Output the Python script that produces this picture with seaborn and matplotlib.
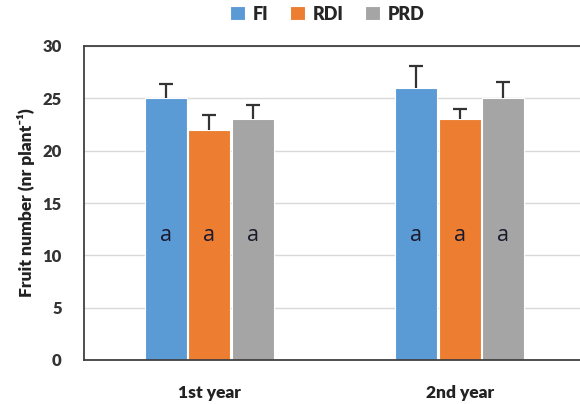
import matplotlib
matplotlib.use("Agg")
import matplotlib.pyplot as plt
import seaborn as sns
import pandas as pd

years = ["1st year", "2nd year"]
treatments = ["FI", "RDI", "PRD"]
fi_values = [25, 26]
rdi_values = [22, 23]
prd_values = [23, 25]
fi_err = [1.4, 2.1]
rdi_err = [1.4, 1.0]
prd_err = [1.4, 1.6]
letters_fi = ["a", "a"]
letters_rdi = ["a", "a"]
letters_prd = ["a", "a"]
yticks = [0, 5, 10, 15, 20, 25, 30]

colors = ["#5B9BD5", "#ED7D31", "#A5A5A5"]

sns.set_theme(style="white")
plt.rcParams['font.family'] = ['Lato', 'DejaVu Sans']

rows = []
for t, vals in zip(treatments, [fi_values, rdi_values, prd_values]):
    for y, v in zip(years, vals):
        rows.append({"year": y, "treatment": t, "value": v})
df = pd.DataFrame(rows)

fig = plt.figure(figsize=(5.8, 4.04), dpi=100)
ax = fig.add_axes([84/580, 1-360/404, (585-84)/580, (360-46)/404])

sns.barplot(data=df, x="year", y="value", hue="treatment", hue_order=treatments,
            palette=colors, width=0.52, gap=0.04, errorbar=None, ax=ax,
            saturation=1, edgecolor="white", linewidth=0.8)

errs = [fi_err, rdi_err, prd_err]
letters = [letters_fi, letters_rdi, letters_prd]
for cont, err, lets in zip(ax.containers, errs, letters):
    xs = [b.get_x() + b.get_width()/2 for b in cont]
    hs = [b.get_height() for b in cont]
    _, caps, _ = ax.errorbar(xs, hs, yerr=[[0]*len(err), err], fmt="none", ecolor="#333333",
                             elinewidth=1.6, capsize=5, capthick=1.6, zorder=3)
    caps[0].set_visible(False)
    for x, l in zip(xs, lets):
        ax.text(x, 11.9, l, ha="center", va="center", fontsize=15.5, color="#1a1a2e",
                family=["Open Sans", "DejaVu Sans"])

ax.set_ylim(0, 30)
ax.set_xlim(-0.5, 1.5)
ax.set_yticks(yticks)
ax.set_yticklabels([str(v) for v in yticks], fontsize=12, fontweight="heavy", color="#333333")
ax.set_xticks([0, 1])
ax.set_xticklabels(years, fontsize=12.5, fontweight="heavy", color="#222222")
ax.tick_params(axis="x", length=0, pad=18)
ax.tick_params(axis="y", length=0, pad=16)
ax.set_xlabel("")
ax.set_ylabel("Fruit number (nr plant⁻¹)", fontsize=12.5, fontweight="heavy",
              color="#222222", labelpad=5)
ax.yaxis.grid(True, color="#D9D9D9", linewidth=1)
ax.set_axisbelow(True)
for s in ["left", "bottom", "top"]:
    ax.spines[s].set_color("#404040")
    ax.spines[s].set_linewidth(1.3)
ax.spines["right"].set_visible(False)

sns.move_legend(ax, "center", bbox_to_anchor=(327/580, 1-14/404),
                bbox_transform=fig.transFigure, ncol=3, frameon=False, title=None,
                handlelength=0.85, handleheight=0.85, handletextpad=0.4, columnspacing=1.2,
                prop={"weight": "heavy", "size": 13})

fig.savefig("out.png", dpi=100)
